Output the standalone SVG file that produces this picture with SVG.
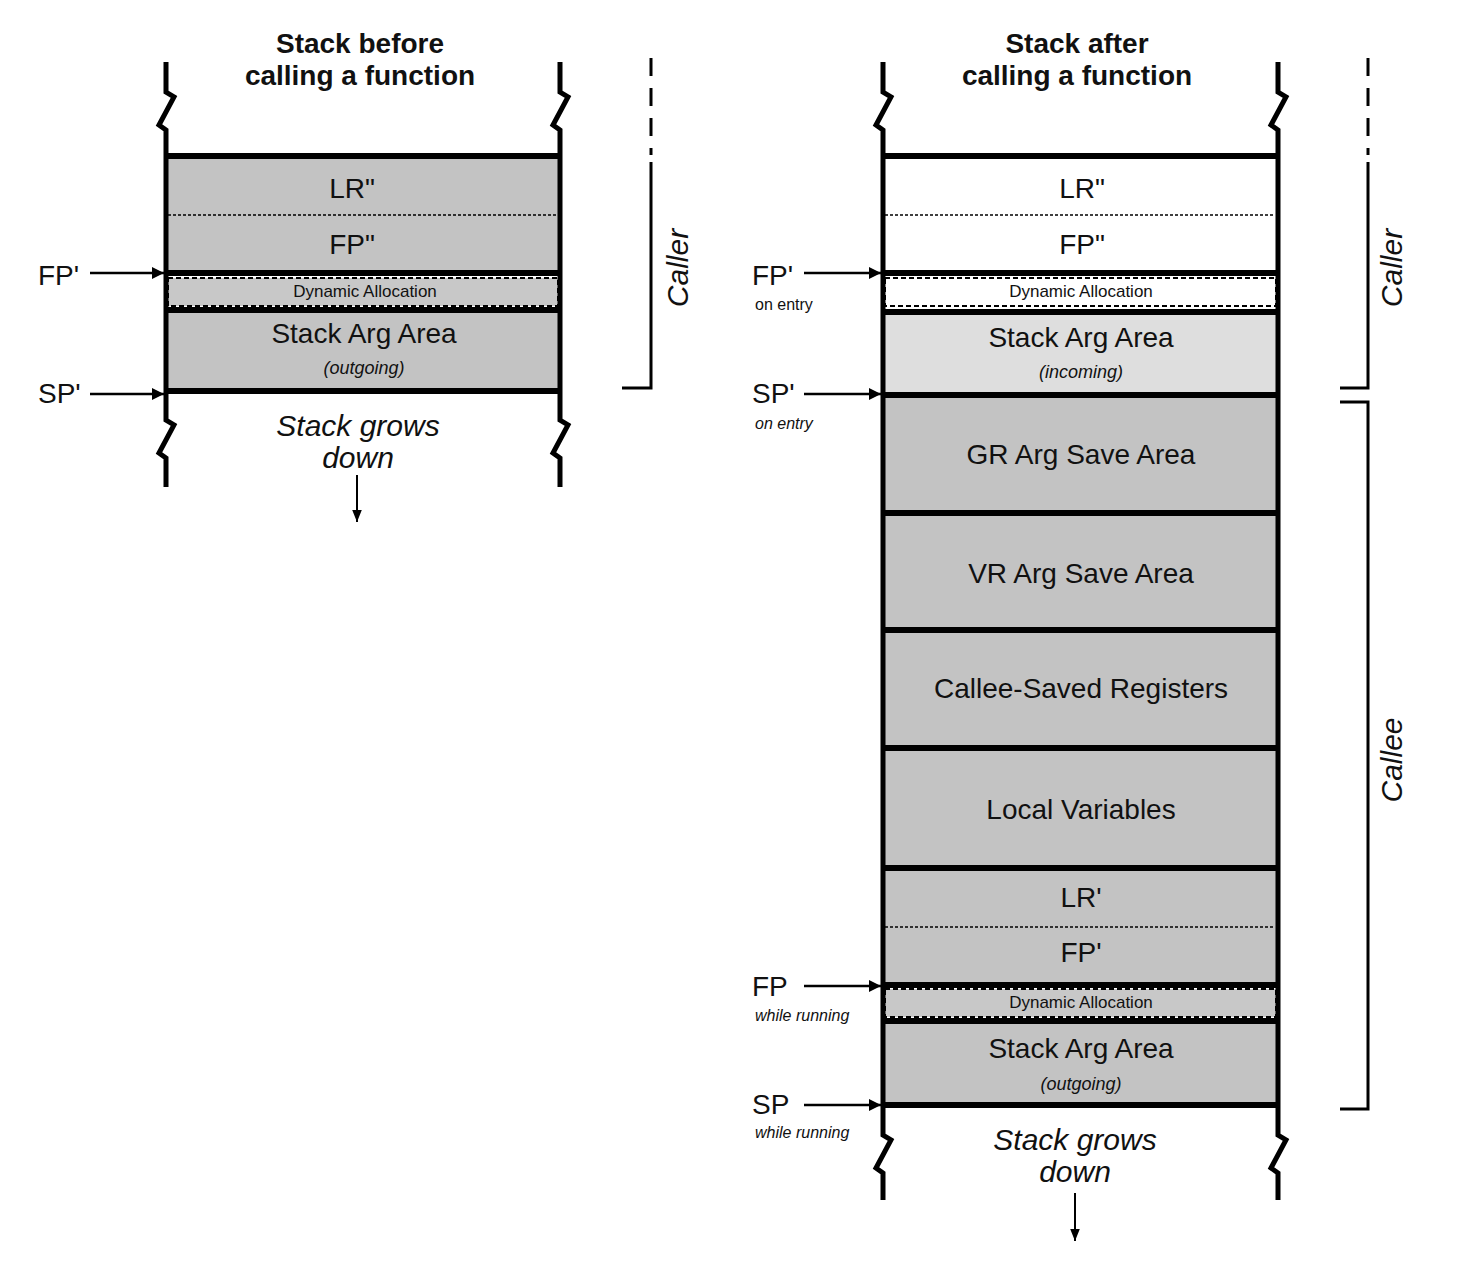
<svg xmlns="http://www.w3.org/2000/svg" width="1470" height="1268" viewBox="0 0 1470 1268">
<style>
text{font-family:"Liberation Sans",Arial,sans-serif;fill:#111}
.t{font-size:28px;font-weight:bold;text-anchor:middle}
.b{font-size:28px;text-anchor:middle}
.s{font-size:17px;text-anchor:middle}
.i{font-size:18px;font-style:italic;text-anchor:middle}
.g{font-size:30px;font-style:italic;text-anchor:middle}
.lab{font-size:28px}
.sub{font-size:16px}
.it{font-style:italic}
.wall{fill:none;stroke:#000;stroke-width:5}
.thick{stroke:#000;stroke-width:6}
.dot{stroke:#000;stroke-width:1.5;stroke-dasharray:3 2}
.dyn{stroke:#000;stroke-width:2;stroke-dasharray:5 3}
.br{fill:none;stroke:#000;stroke-width:3}
.arr{stroke:#000;stroke-width:2.5;marker-end:url(#ah)}
</style>
<defs>
<marker id="ah" viewBox="0 0 10 10" refX="10" refY="5" markerWidth="5" markerHeight="5" orient="auto" markerUnits="strokeWidth"><path d="M0,0L10,5L0,10z" fill="#000"/></marker>
<marker id="sa" viewBox="0 0 10 10" refX="10" refY="5" markerWidth="6" markerHeight="6" orient="auto" markerUnits="strokeWidth"><path d="M0,1L10,5L0,9z" fill="#000"/></marker>
</defs>

<g id="left-stack">
<text class="t" x="360" y="53">Stack before</text>
<text class="t" x="360" y="85">calling a function</text>
<rect x="166" y="156" width="392" height="117" fill="#c3c3c3"/>
<rect x="168" y="278" width="390" height="28" fill="#c8c8c8" class="dyn"/>
<rect x="166" y="310" width="392" height="81" fill="#c3c3c3"/>
<line x1="166" y1="156" x2="558" y2="156" class="thick"/>
<line x1="168" y1="215" x2="556" y2="215" class="dot"/>
<line x1="166" y1="273" x2="558" y2="273" class="thick"/>
<line x1="166" y1="310" x2="558" y2="310" class="thick"/>
<line x1="166" y1="391" x2="558" y2="391" class="thick"/>
<path class="wall" d="M166,62V92L174,97L159,125L166,130V420L174,425L159,453L166,458V487"/>
<path class="wall" d="M560,62V92L568,97L553,125L560,130V420L568,425L553,453L560,458V487"/>
<text class="b" x="352" y="198">LR"</text>
<text class="b" x="352" y="254">FP"</text>
<text class="s" x="365" y="297">Dynamic Allocation</text>
<text class="b" x="364" y="343">Stack Arg Area</text>
<text class="i" x="364" y="374">(outgoing)</text>
<text class="g" x="358" y="436">Stack grows</text>
<text class="g" x="358" y="468">down</text>
</g>

<g id="right-stack">
<text class="t" x="1077" y="53">Stack after</text>
<text class="t" x="1077" y="85">calling a function</text>
<rect x="883" y="156" width="393" height="117" fill="#fff"/>
<rect x="885" y="278" width="391" height="28" fill="#fff" class="dyn"/>
<rect x="883" y="312" width="393" height="81" fill="#dedede"/>
<rect x="883" y="395" width="393" height="473" fill="#c3c3c3"/>
<rect x="883" y="868" width="393" height="117" fill="#c3c3c3"/>
<rect x="885" y="989" width="391" height="28" fill="#c8c8c8" class="dyn"/>
<rect x="883" y="1021" width="393" height="84" fill="#c3c3c3"/>
<line x1="883" y1="156" x2="1276" y2="156" class="thick"/>
<line x1="885" y1="215" x2="1274" y2="215" class="dot"/>
<line x1="883" y1="273" x2="1276" y2="273" class="thick"/>
<line x1="883" y1="312" x2="1276" y2="312" class="thick"/>
<line x1="883" y1="395" x2="1276" y2="395" class="thick"/>
<line x1="883" y1="513" x2="1276" y2="513" class="thick"/>
<line x1="883" y1="630" x2="1276" y2="630" class="thick"/>
<line x1="883" y1="748" x2="1276" y2="748" class="thick"/>
<line x1="883" y1="868" x2="1276" y2="868" class="thick"/>
<line x1="885" y1="927" x2="1274" y2="927" class="dot"/>
<line x1="883" y1="985" x2="1276" y2="985" class="thick"/>
<line x1="883" y1="1021" x2="1276" y2="1021" class="thick"/>
<line x1="883" y1="1105" x2="1276" y2="1105" class="thick"/>
<path class="wall" d="M883,62V92L891,97L876,125L883,130V1135L891,1140L876,1168L883,1173V1200"/>
<path class="wall" d="M1278,62V92L1286,97L1271,125L1278,130V1135L1286,1140L1271,1168L1278,1173V1200"/>
<text class="b" x="1082" y="198">LR"</text>
<text class="b" x="1082" y="254">FP"</text>
<text class="s" x="1081" y="297">Dynamic Allocation</text>
<text class="b" x="1081" y="347">Stack Arg Area</text>
<text class="i" x="1081" y="378">(incoming)</text>
<text class="b" x="1081" y="464">GR Arg Save Area</text>
<text class="b" x="1081" y="583">VR Arg Save Area</text>
<text class="b" x="1081" y="698">Callee-Saved Registers</text>
<text class="b" x="1081" y="819">Local Variables</text>
<text class="b" x="1081" y="907">LR'</text>
<text class="b" x="1081" y="962">FP'</text>
<text class="s" x="1081" y="1008">Dynamic Allocation</text>
<text class="b" x="1081" y="1058">Stack Arg Area</text>
<text class="i" x="1081" y="1090">(outgoing)</text>
<text class="g" x="1075" y="1150">Stack grows</text>
<text class="g" x="1075" y="1182">down</text>
</g>

<g id="labels">
<text class="lab" x="38" y="285">FP'</text>
<text class="lab" x="38" y="403">SP'</text>
<text class="lab" x="752" y="285">FP'</text>
<text class="sub" x="755" y="310">on entry</text>
<text class="lab" x="752" y="403">SP'</text>
<text class="sub it" x="755" y="429">on entry</text>
<text class="lab" x="752" y="996">FP</text>
<text class="sub it" x="755" y="1021">while running</text>
<text class="lab" x="752" y="1114">SP</text>
<text class="sub it" x="755" y="1138">while running</text>
<text class="g" x="0" y="0" transform="translate(688,268) rotate(-90)">Caller</text>
<text class="g" x="0" y="0" transform="translate(1402,268) rotate(-90)">Caller</text>
<text class="g" x="0" y="0" transform="translate(1402,760) rotate(-90)">Callee</text>
</g>

<g id="connectors">
<line x1="90" y1="273" x2="164" y2="273" class="arr"/>
<line x1="90" y1="394" x2="164" y2="394" class="arr"/>
<line x1="804" y1="273" x2="881" y2="273" class="arr"/>
<line x1="804" y1="394" x2="881" y2="394" class="arr"/>
<line x1="804" y1="986" x2="881" y2="986" class="arr"/>
<line x1="804" y1="1105" x2="881" y2="1105" class="arr"/>
<line x1="357" y1="475" x2="357" y2="522" stroke="#000" stroke-width="2" marker-end="url(#sa)"/>
<line x1="1075" y1="1193" x2="1075" y2="1241" stroke="#000" stroke-width="2" marker-end="url(#sa)"/>
<path class="br" d="M651,58V155" stroke-dasharray="18 12"/>
<path class="br" d="M651,162V388H622"/>
<path class="br" d="M1368,58V155" stroke-dasharray="18 12"/>
<path class="br" d="M1368,162V388H1340"/>
<path class="br" d="M1340,402H1368V1109H1340"/>
</g>
</svg>
